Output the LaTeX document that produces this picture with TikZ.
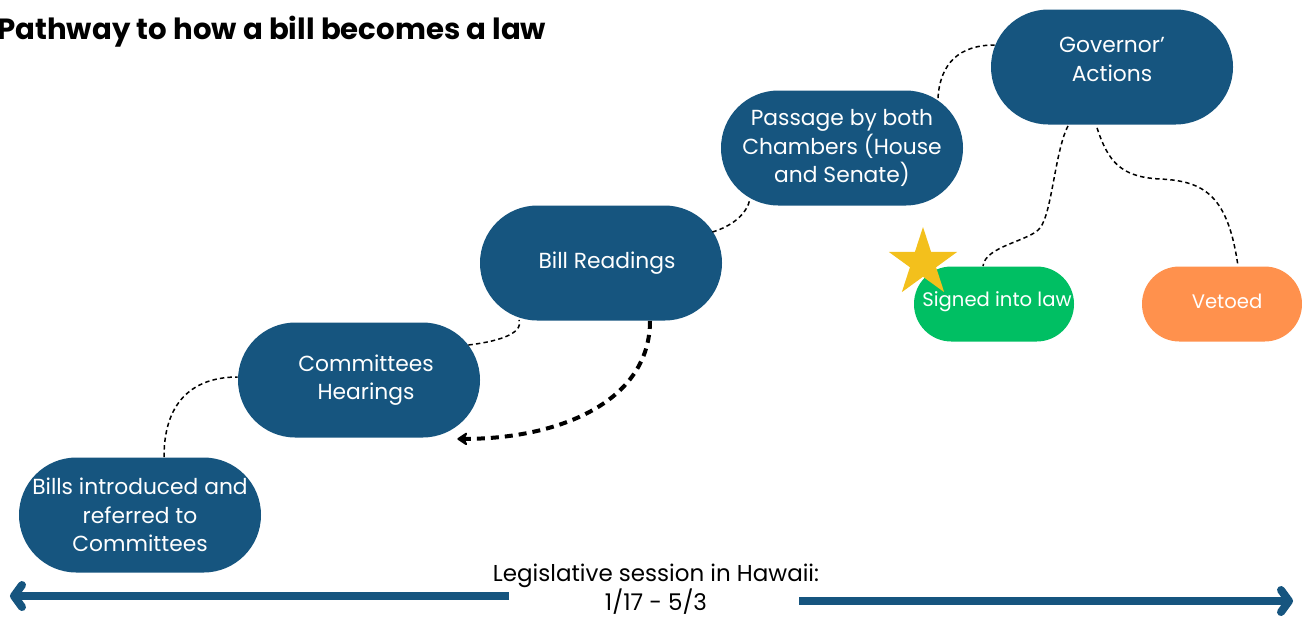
\documentclass[tikz,border=0pt]{standalone}
\usepackage{fontspec}
\setmainfont{Poppins}
\usepackage{xcolor}
\usetikzlibrary{arrows, arrows.meta}
\usetikzlibrary{calc}
\usetikzlibrary{shapes.geometric}

\definecolor{billblue}{HTML}{16557F}
\definecolor{signgreen}{HTML}{00BF63}
\definecolor{vetoorange}{HTML}{FF914D}
\definecolor{stargold}{HTML}{F3C01C}

\begin{document}
\begin{tikzpicture}[x=0.5pt, y=-0.5pt,
    stage/.style={rectangle, rounded corners=28.7pt, fill=billblue, text=white, inner sep=0pt,
      minimum width=121pt, minimum height=57.5pt, align=center, font=\fontsize{10.9}{14.3}\selectfont},
    outcome/.style={rectangle, rounded corners=18.7pt, text=white, inner sep=0pt,
      minimum width=80pt, minimum height=37.5pt, align=center, font=\fontsize{9.8}{12}\selectfont},
    link/.style={draw=black, line width=0.75pt, dash pattern=on 2.2pt off 1.6pt},
    goback/.style={draw=black, line width=2pt, dash pattern=on 4pt off 3pt,
      -{Stealth[length=6pt, width=8pt, inset=2pt, round]}},
    timeline/.style={draw=billblue, line width=4pt, -{Straight Barb[length=4pt, width=11pt, round]}}]
      \useasboundingbox (0,0) rectangle (1302,618);

      \node[anchor=base west, inner sep=0pt, font=\fontsize{14.6}{17}\selectfont\bfseries] (title) at (-3,39) {Pathway to how a bill becomes a law};

      \node[stage] (bills) at (140,515) {Bills introduced and\\referred to\\Committees};
      \node[stage] (committees) at (359,380) {\hspace*{7pt}Committees\\\hspace*{7pt}Hearings};
      \node[stage] (readings) at (601,263) {\hspace*{6pt}Bill Readings};
      \node[stage] (passage) at (842,148) {Passage by both\\Chambers (House\\and Senate)};
      \node[stage] (governor) at (1112,67) {\raisebox{3pt}[\height][\depth]{\begin{tabular}{@{}c@{}}Governor’\\Actions\end{tabular}}};
      \node[outcome, fill=signgreen] (signed) at (994,304) {\raisebox{1pt}[\height][\depth]{\hspace*{3pt}Signed into law}};
      \node[outcome, fill=vetoorange] (vetoed) at (1222,304) {\raisebox{1.5pt}[\height][\depth]{\hspace*{5pt}Vetoed}};
      \node[star, star points=5, star point ratio=2.618, fill=stargold, inner sep=0pt, minimum size=36pt] (star) at (923,263) {};

      \coordinate (signbend) at (1040,228);
      \coordinate (vetobend) at (1160,179);

      \draw[link] ($(bills.north)+(24,0)$) .. controls +(0,-60) and +(-40,0) .. ($(committees.west)+(0,-3)$);
      \draw[link] ($(committees.east)+(-12,-35)$) .. controls +(25,-3) and +(5,15) .. ($(readings.south)+(-82,-1)$);
      \draw[link] ($(readings.east)+(-10,-31)$) .. controls +(20,-6) and +(-3,15) .. ($(passage.south)+(-92,-7)$);
      \draw[link] ($(passage.north)+(96,8)$) .. controls +(2,-35) and +(-35,0) .. ($(governor.west)+(4,-22)$);
      \draw[link] ($(governor.south)+(-44,1)$) .. controls +(-13,25) and +(12,-15) .. (signbend)
        .. controls +(-10,13) and +(2,-20) .. ($(signed.north)+(-11,0)$);
      \draw[link] ($(governor.south)+(-15,3)$) .. controls +(11,33) and +(-40,-2) .. (vetobend)
        .. controls +(45,2) and +(-10,-70) .. ($(vetoed.north)+(16,0)$);

      \draw[goback] ($(readings.south)+(49,0)$) .. controls +(0,80) and +(103,0) .. ($(committees.south east)+(-23,1)$);

      \node[font=\fontsize{11.5}{14.3}\selectfont, align=center, inner sep=0pt] (session) at (656,589) {Legislative session in Hawaii:\\1/17 - 5/3};
      \coordinate (lefttip) at (10,596);
      \coordinate (righttip) at (1293,601);
      \draw[timeline] (509,596) -- (lefttip);
      \draw[timeline] (799,601) -- (righttip);
\end{tikzpicture}
\end{document}
